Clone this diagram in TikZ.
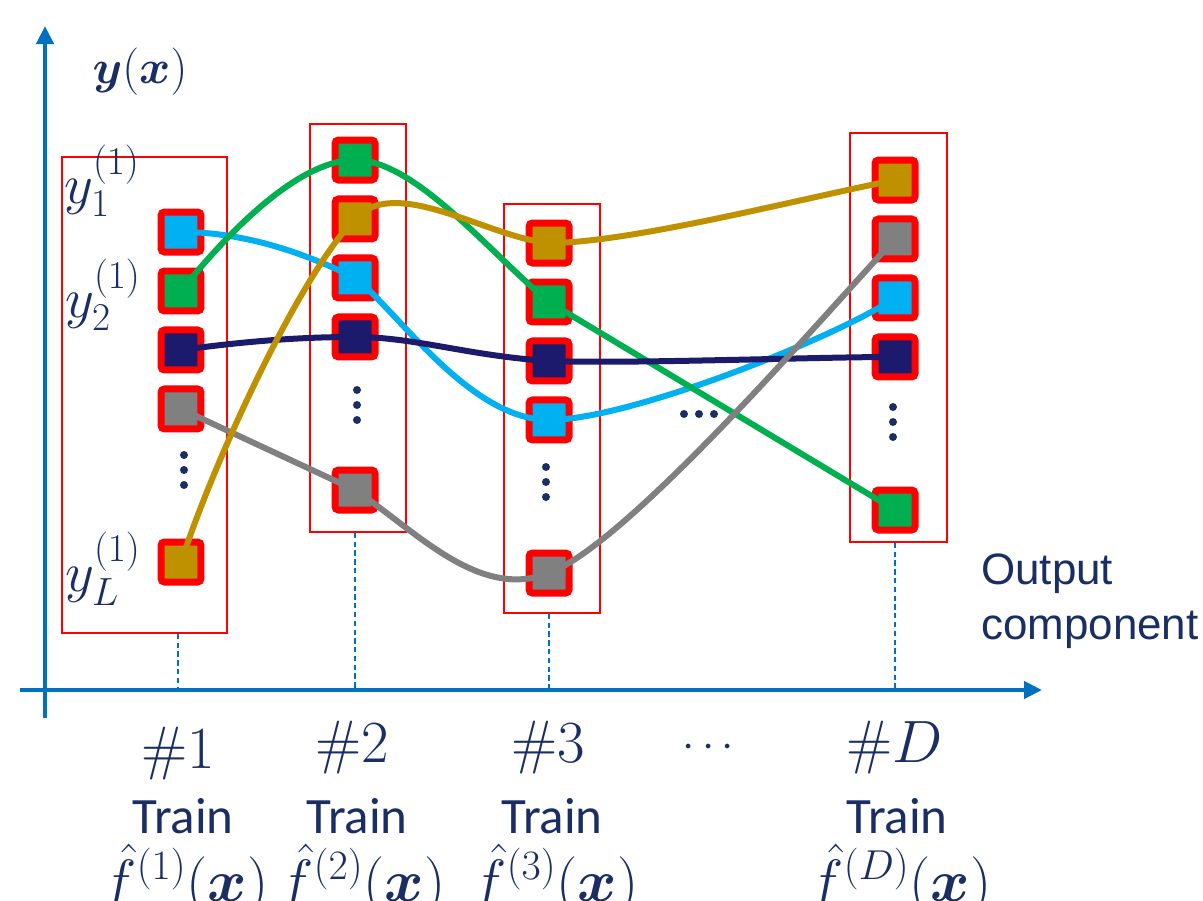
\documentclass[tikz,border=0pt]{standalone}
\usepackage{fix-cm}
\usepackage{amsmath,bm}
\usepackage{fontspec}
\newfontfamily\trainfont{Carlito}
\newfontfamily\outfont{Liberation Sans}
\usetikzlibrary{positioning,fit,arrows.meta}
\definecolor{axisblue}{RGB}{0,112,192}
\definecolor{txtblue}{RGB}{26,46,100}
\definecolor{cyanc}{RGB}{0,176,240}
\definecolor{greenc}{RGB}{0,176,80}
\definecolor{goldc}{RGB}{191,144,0}
\definecolor{grayc}{RGB}{128,128,128}
\definecolor{navyc}{RGB}{28,26,108}
\tikzstyle{sq}=[draw=red,line width=0.14cm,rounded corners=2pt,minimum size=0.8cm,inner sep=0pt]
\tikzstyle{frame}=[draw=red,line width=1pt,inner sep=0pt]
\tikzstyle{curve}=[line width=0.12cm]
\tikzstyle{guide}=[draw=axisblue,dashed,line width=1.2pt,dash pattern=on 3pt off 2pt]
\tikzstyle{axis}=[draw=axisblue,line width=2.4pt]
\tikzstyle{mlbl}=[text=txtblue,font=\fontsize{32}{38}\selectfont]
\tikzstyle{hlbl}=[text=txtblue,anchor=base,font=\fontsize{34}{40}\selectfont]
\tikzstyle{flbl}=[text=txtblue,anchor=base,font=\fontsize{34}{40}\selectfont]
\tikzstyle{tlbl}=[text=txtblue,anchor=base,font=\trainfont\fontsize{29}{34}\selectfont]
\newcommand{\newSq}[3]{\node[sq,fill=#2](#1)[#3]{};}
\newcommand{\vdts}[1]{\foreach \dd in {-15,0,15} \fill[txtblue] (#1) +(0,\dd) circle (4);}

\begin{document}
\begin{tikzpicture}[x=0.02cm,y=-0.02cm,node distance=0.24cm,
  >={Triangle[length=0.36cm,width=0.34cm]}]
  \useasboundingbox (0,0) rectangle (1203,900);
  % axes
  \coordinate (O) at (45,690);
  \coordinate (xstart) at (20,690);
  \coordinate (xend) at (1042,690);
  \coordinate (ystart) at (45,718);
  \coordinate (yend) at (45,26);
  \draw[axis,->] (xstart) -- (xend);
  \draw[axis,->] (ystart) -- (yend);
  % frames
  \node[frame,fit={(62,157) (227,633)}] (box1) {};
  \node[frame,fit={(310,124) (406,532)}] (box2) {};
  \node[frame,fit={(504,204) (600,613)}] (box3) {};
  \node[frame,fit={(850,133) (947,542)}] (boxD) {};
  % column #1
  \newSq{c1}{cyanc}{at={(181,232)}}
  \newSq{g1}{greenc}{below=of c1}
  \newSq{n1}{navyc}{below=of g1}
  \newSq{r1}{grayc}{below=of n1}
  \newSq{o1}{goldc}{at={(181,562)}}
  % column #2
  \newSq{g2}{greenc}{at={(355,160)}}
  \newSq{o2}{goldc}{below=of g2}
  \newSq{c2}{cyanc}{below=of o2}
  \newSq{n2}{navyc}{below=of c2}
  \newSq{r2}{grayc}{at={(355,490)}}
  % column #3
  \newSq{o3}{goldc}{at={(549,243)}}
  \newSq{g3}{greenc}{below=of o3}
  \newSq{n3}{navyc}{below=of g3}
  \newSq{c3}{cyanc}{below=of n3}
  \newSq{r3}{grayc}{at={(549,573)}}
  % column #D
  \newSq{oD}{goldc}{at={(895,180)}}
  \newSq{rD}{grayc}{below=of oD}
  \newSq{cD}{cyanc}{below=of rD}
  \newSq{nD}{navyc}{below=of cD}
  \newSq{gD}{greenc}{at={(895,510)}}
  % dots
  \vdts{184,470}
  \vdts{357,405}
  \vdts{546,482}
  \vdts{893,422}
  \foreach \dd in {-15,0,15} \fill[txtblue] (699,414) +(\dd,0) circle (4);
  % curves
  \draw[curve,cyanc] (c1.center) .. controls +(70,0) and +(-40,-20) .. (c2.center)
    .. controls +(40,30) and +(-80,0) .. (c3.center)
    .. controls +(80,0) and +(-60,40) .. (cD.center);
  \draw[curve,greenc] (g1.center) .. controls +(40,-50) and +(-60,0) .. (g2.center)
    .. controls +(60,0) and +(-60,-50) .. (g3.center)
    .. controls +(60,36) and +(-60,-36) .. (gD.center);
  \draw[curve,navyc] (n1.center) .. controls +(60,-8) and +(-60,0) .. (n2.center)
    .. controls +(60,0) and +(-80,-5) .. (n3.center)
    .. controls +(80,3) and +(-80,0) .. (nD.center);
  \draw[curve,grayc] (r1.center) .. controls +(60,28) and +(-60,-28) .. (r2.center)
    .. controls +(60,40) and +(-70,28) .. (r3.center)
    .. controls +(80,-30) and +(-70,75) .. (rD.center);
  \draw[curve,goldc] (o1.center) .. controls +(40,-120) and +(-50,50) .. (o2.center)
    .. controls +(40,-45) and +(-60,-5) .. (o3.center)
    .. controls +(80,0) and +(-100,20) .. (oD.center);
  % guides
  \draw[guide] (box1.south -| 178,0) -- (178,690);
  \draw[guide] (box2.south -| c2) -- (c2 |- O);
  \draw[guide] (box3.south -| c3) -- (c3 |- O);
  \draw[guide] (boxD.south -| cD) -- (cD |- O);
  % labels
  \node[mlbl,font=\fontsize{27}{32}\selectfont] (yx) at (140,72) {$\bm{y}(\bm{x})$};
  \node[mlbl] (y1) at (102,181) {$y_1^{(1)}$};
  \node[mlbl] (y2) at (103,295) {$y_2^{(1)}$};
  \node[mlbl] (yL) at (103,569) {$y_L^{(1)}$};
  \node[text=txtblue,font=\outfont\fontsize{25}{31}\selectfont,align=left,anchor=west] (oc) at (975,601) {Output\\component};
  \node[hlbl] (h1) at (178,768) {$\#1$};
  \node[hlbl] (h2) at (352,762) {$\#2$};
  \node[hlbl] (h3) at (548,762) {$\#3$};
  \node[hlbl,font=\fontsize{25}{30}\selectfont] (hdots) at (712,757) {$\cdots$};
  \node[hlbl] (hD) at (895,762) {$\#D$};
  \node[tlbl] (t1) at (183,833) {Train};
  \node[tlbl] (t2) at (357,833) {Train};
  \node[tlbl] (t3) at (552,833) {Train};
  \node[tlbl] (tD) at (897,833) {Train};
  \node[flbl] (f1) at (185,901) {$\hat{f}^{(1)}(\bm{x})$};
  \node[flbl] (f2) at (362,901) {$\hat{f}^{(2)}(\bm{x})$};
  \node[flbl] (f3) at (555,901) {$\hat{f}^{(3)}(\bm{x})$};
  \node[flbl] (fD) at (900,901) {$\hat{f}^{(D)}(\bm{x})$};
\end{tikzpicture}
\end{document}
